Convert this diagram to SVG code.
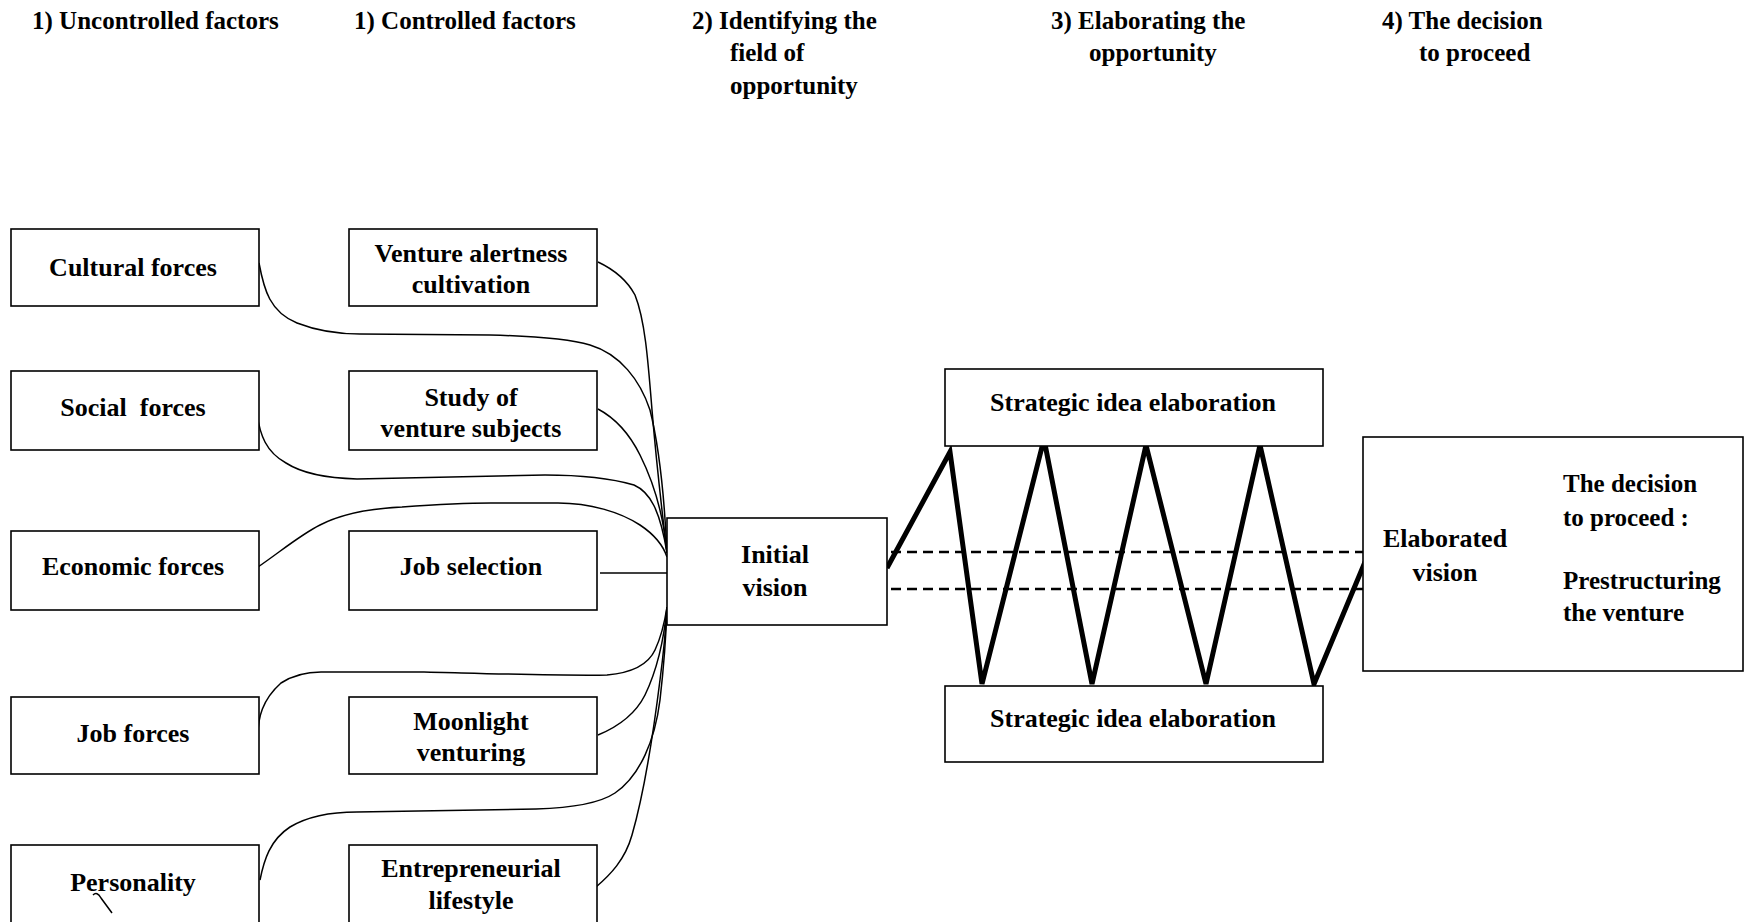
<svg xmlns="http://www.w3.org/2000/svg" width="1752" height="922" viewBox="0 0 1752 922">
<style>
text{font-family:"Liberation Serif","Times New Roman",serif;font-weight:bold;fill:#000}
.h{font-size:25px}
.b{font-size:26px;text-anchor:middle}
.r{font-size:25px}
.box{fill:#fff;stroke:#000;stroke-width:1.6}
.c{fill:none;stroke:#000;stroke-width:1.5}
.z{fill:none;stroke:#000;stroke-width:5;stroke-linejoin:miter}
.d{fill:none;stroke:#000;stroke-width:2.5;stroke-dasharray:10 6}
</style>
<rect width="1752" height="922" fill="#fff"/>
<g id="headers">
<text class="h" x="32" y="28.5">1) Uncontrolled factors</text>
<text class="h" x="354" y="28.5">1) Controlled factors</text>
<text class="h" x="692" y="28.5">2) Identifying the</text>
<text class="h" x="730" y="61">field of</text>
<text class="h" x="730" y="93.5">opportunity</text>
<text class="h" x="1051" y="28.5">3) Elaborating the</text>
<text class="h" x="1089" y="61">opportunity</text>
<text class="h" x="1382" y="28.5">4) The decision</text>
<text class="h" x="1419" y="61">to proceed</text>
</g>
<g id="connectors">
<path class="c" d="M259,263 C264,290 270,312 297,323 C320,332 340,334 360,334 L490,335 C530,336 570,339 590,345 C620,354 640,380 650,410 C660,450 665,510 667,553"/>
<path class="c" d="M598,262 C615,270 628,282 635,295 C645,320 648,360 652,410 C657,470 663,520 667,553"/>
<path class="c" d="M257,414 C260,435 266,452 286,463 C300,472 320,478 357,479 L545,475 C580,475 610,478 634,485 C650,492 660,510 667,553"/>
<path class="c" d="M598,409 C615,418 630,435 640,455 C655,485 664,520 667,553"/>
<path class="c" d="M258,567 C280,552 300,535 320,525 C345,512 380,508 402,507 C430,505 470,503 491,503 L558,503 C590,503 620,512 640,525 C655,535 663,545 667,557"/>
<path class="c" d="M600,573 L667,573"/>
<path class="c" d="M258,735 C258,718 262,700 281,683 C295,674 310,672 321,672 L424,672 C470,673 560,676 607,675 C630,673 648,665 655,650 C662,635 665,620 667,607"/>
<path class="c" d="M598,735 C615,728 635,715 645,695 C658,668 664,640 667,607"/>
<path class="c" d="M260,880 C264,860 270,840 290,827 C310,815 335,812 357,812 L536,809 C570,808 600,803 615,793 C640,776 655,740 660,700 C664,665 666,640 667,607"/>
<path class="c" d="M596,887 C610,875 625,860 632,835 C645,790 655,720 660,680 C664,650 666,625 667,607"/>
<path class="d" d="M891,552 L1363,552"/>
<path class="d" d="M891,589 L1363,589"/>
<path class="z" d="M887,568 L950,452 L982,684 L1044,439 L1092,684 L1146,445 L1206,684 L1260,445 L1314,684 L1365,562"/>
</g>
<g id="cultural"><rect class="box" x="11" y="229" width="248" height="77"/><text class="b" x="133" y="275.5">Cultural forces</text></g>
<g id="social"><rect class="box" x="11" y="371" width="248" height="79"/><text class="b" x="133" y="415.5" xml:space="preserve">Social  forces</text></g>
<g id="economic"><rect class="box" x="11" y="531" width="248" height="79"/><text class="b" x="133" y="574.5">Economic forces</text></g>
<g id="jobforces"><rect class="box" x="11" y="697" width="248" height="77"/><text class="b" x="133" y="741.5">Job forces</text></g>
<g id="personality"><rect class="box" x="11" y="845" width="248" height="100"/><text class="b" x="133" y="891">Personality</text><path class="c" d="M93,895 Q97,891 101,898 L112,913"/></g>
<g id="alertness"><rect class="box" x="349" y="229" width="248" height="77"/><text class="b" x="471" y="261.5">Venture alertness</text><text class="b" x="471" y="292.5">cultivation</text></g>
<g id="study"><rect class="box" x="349" y="371" width="248" height="79"/><text class="b" x="471" y="405.5">Study of</text><text class="b" x="471" y="436.5">venture subjects</text></g>
<g id="jobselection"><rect class="box" x="349" y="531" width="248" height="79"/><text class="b" x="471" y="574.5">Job selection</text></g>
<g id="moonlight"><rect class="box" x="349" y="697" width="248" height="77"/><text class="b" x="471" y="729.5">Moonlight</text><text class="b" x="471" y="760.5">venturing</text></g>
<g id="lifestyle"><rect class="box" x="349" y="845" width="248" height="100"/><text class="b" x="471" y="876.5">Entrepreneurial</text><text class="b" x="471" y="908.5">lifestyle</text></g>
<g id="initial"><rect class="box" x="667" y="518" width="220" height="107"/><text class="b" x="775" y="562.5">Initial</text><text class="b" x="775" y="595.5">vision</text></g>
<g id="strategic-top"><rect class="box" x="945" y="369" width="378" height="77"/><text class="b" x="1133" y="410.5">Strategic idea elaboration</text></g>
<g id="strategic-bottom"><rect class="box" x="945" y="686" width="378" height="76"/><text class="b" x="1133" y="726.5">Strategic idea elaboration</text></g>
<g id="decision"><rect class="box" x="1363" y="437" width="380" height="234"/><text class="b" x="1445" y="546.5">Elaborated</text><text class="b" x="1445" y="580.5">vision</text><text class="r" x="1563" y="491.5">The decision</text><text class="r" x="1563" y="525.5">to proceed :</text><text class="r" x="1563" y="588.5">Prestructuring</text><text class="r" x="1563" y="620.5">the venture</text></g>
</svg>
